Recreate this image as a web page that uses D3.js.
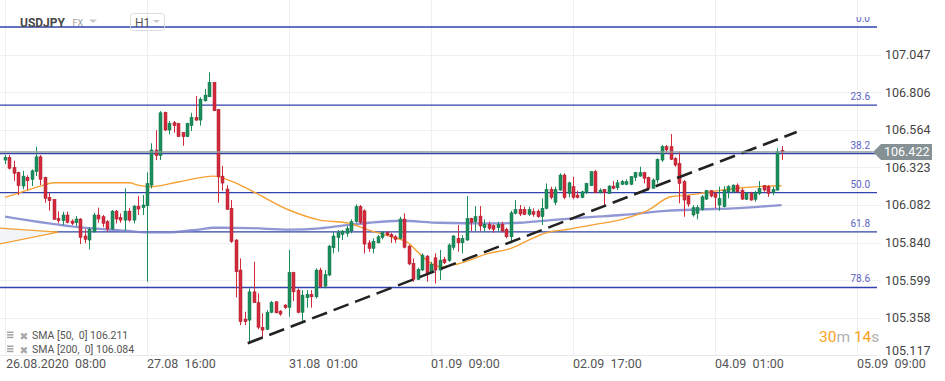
<!DOCTYPE html>
<html><head><meta charset="utf-8">
<script src="https://cdn.jsdelivr.net/npm/d3@7"></script>
<style>body{margin:0;background:#fff;overflow:hidden}svg{display:block;font-family:Roboto,"Open Sans",sans-serif}</style>
</head><body><svg id="c" width="945" height="381"></svg>
<script>
const symbol = "USDJPY", market = "FX", interval = "H1";
const open = [106.370,106.388,106.323,106.291,106.203,106.259,106.246,106.295,106.391,106.259,106.130,106.118,105.995,105.980,106.017,105.978,105.967,105.991,105.882,105.856,105.909,106.017,106.006,105.974,105.927,106.042,106.002,105.984,106.042,105.984,106.074,106.064,106.076,106.209,106.435,106.398,106.677,106.563,106.610,106.606,106.548,106.520,106.591,106.645,106.627,106.751,106.777,106.870,106.696,106.267,106.184,106.060,105.856,105.663,105.348,105.341,105.523,105.453,105.295,105.282,105.391,105.459,105.399,105.438,105.423,105.648,105.534,105.391,105.485,105.507,105.491,105.663,105.560,105.631,105.806,105.871,105.892,105.899,105.914,105.974,106.070,106.044,105.838,105.802,105.838,105.871,105.903,105.892,105.877,105.867,105.991,105.817,105.706,105.603,105.663,105.753,105.652,105.742,105.663,105.732,105.723,105.809,105.867,105.838,105.856,105.995,105.974,106.010,105.935,105.957,105.948,105.935,105.957,105.925,105.877,106.027,106.053,106.053,106.021,106.038,106.042,106.006,106.060,106.182,106.098,106.177,106.274,106.156,106.199,106.145,106.130,106.160,106.205,106.295,106.160,106.182,106.156,106.203,106.192,106.214,106.214,106.214,106.259,106.267,106.289,106.259,106.188,106.242,106.370,106.456,106.456,106.381,106.349,106.231,106.139,106.017,106.027,106.053,106.119,106.173,106.156,106.081,106.070,106.166,106.166,106.209,106.177,106.118,106.156,106.118,106.156,106.205,106.199,106.160,106.177,106.432];
const high = [106.402,106.402,106.366,106.295,106.301,106.272,106.310,106.456,106.402,106.263,106.160,106.120,106.040,106.038,106.038,105.989,106.010,105.997,105.925,105.938,106.031,106.064,106.017,105.984,106.049,106.049,106.027,106.188,106.060,106.081,106.139,106.145,106.291,106.478,106.563,106.685,106.681,106.621,106.621,106.608,106.550,106.610,106.674,106.782,106.773,106.827,106.934,106.872,106.698,106.332,106.209,106.113,105.862,105.738,105.395,105.545,105.716,105.513,105.385,105.406,105.464,105.464,105.406,105.444,105.792,105.652,105.545,105.534,105.534,105.534,105.674,105.678,105.663,105.824,105.909,105.920,105.920,105.946,105.989,106.085,106.081,106.053,105.856,105.867,105.888,105.914,105.914,105.903,105.888,106.006,106.027,105.824,105.738,105.678,105.770,105.759,105.716,105.770,105.792,105.748,105.835,105.888,105.952,105.888,106.139,105.999,106.074,106.074,105.989,105.974,105.957,105.974,105.974,105.935,106.044,106.113,106.081,106.070,106.070,106.060,106.053,106.124,106.220,106.199,106.199,106.285,106.285,106.231,106.263,106.173,106.173,106.224,106.299,106.306,106.188,106.184,106.209,106.235,106.242,106.242,106.246,106.267,106.295,106.327,106.295,106.263,106.253,106.381,106.467,106.467,106.537,106.388,106.424,106.242,106.145,106.081,106.081,106.145,106.177,106.177,106.166,106.199,106.203,106.209,106.214,106.220,106.188,106.166,106.166,106.173,106.235,106.209,106.209,106.199,106.445,106.460];
const low = [106.344,106.310,106.237,106.145,106.182,106.177,106.203,106.267,106.209,106.096,106.044,105.984,105.963,105.952,105.963,105.952,105.946,105.830,105.835,105.796,105.903,105.967,105.938,105.909,105.920,105.963,105.967,105.916,105.974,105.963,106.017,106.017,105.588,106.188,106.370,106.370,106.557,106.535,106.546,106.518,106.462,106.518,106.557,106.621,106.591,106.745,106.775,106.685,106.096,106.173,106.049,105.838,105.487,105.309,105.309,105.192,105.451,105.282,105.224,105.277,105.386,105.385,105.369,105.414,105.363,105.464,105.385,105.331,105.421,105.421,105.481,105.549,105.545,105.624,105.770,105.781,105.856,105.877,105.899,105.967,105.957,105.770,105.781,105.770,105.835,105.860,105.882,105.838,105.838,105.860,105.802,105.695,105.588,105.599,105.657,105.588,105.642,105.577,105.599,105.702,105.716,105.792,105.781,105.770,105.851,105.914,105.914,105.914,105.909,105.920,105.903,105.914,105.903,105.867,105.835,106.021,106.010,106.017,106.010,106.006,105.999,105.952,106.053,106.118,106.081,106.173,106.118,106.130,106.118,106.124,106.124,106.152,106.203,106.156,106.156,106.070,106.152,106.182,106.177,106.209,106.208,106.209,106.235,106.263,106.220,106.184,106.186,106.220,106.359,106.413,106.370,106.327,106.092,106.006,106.070,106.006,105.989,106.044,106.113,106.130,106.060,106.044,106.066,106.124,106.160,106.160,106.113,106.113,106.109,106.102,106.145,106.166,106.134,106.145,106.173,106.370];
const close = [106.388,106.317,106.285,106.205,106.267,106.237,106.301,106.391,106.246,106.124,106.109,105.989,105.980,106.017,105.970,105.963,105.991,105.873,105.860,105.925,106.017,105.991,105.963,105.927,106.042,105.991,105.984,106.042,105.984,106.074,106.055,106.081,106.220,106.435,106.398,106.674,106.563,106.606,106.591,106.520,106.520,106.606,106.645,106.627,106.762,106.788,106.870,106.687,106.263,106.222,106.053,105.845,105.652,105.331,105.331,105.523,105.453,105.295,105.277,105.391,105.455,105.388,105.380,105.421,105.648,105.523,105.391,105.502,105.507,105.491,105.663,105.556,105.635,105.817,105.882,105.903,105.914,105.931,105.974,106.070,105.970,105.830,105.802,105.849,105.877,105.903,105.888,105.877,105.860,105.991,105.809,105.702,105.603,105.667,105.759,105.642,105.700,105.663,105.727,105.710,105.824,105.882,105.838,105.867,105.995,105.970,106.006,105.946,105.957,105.931,105.925,105.957,105.914,105.877,106.031,106.053,106.023,106.021,106.053,106.021,106.006,106.060,106.182,106.130,106.182,106.274,106.130,106.224,106.130,106.130,106.166,106.220,106.295,106.160,106.177,106.160,106.203,106.188,106.224,106.231,106.231,106.263,106.289,106.289,106.253,106.188,106.242,106.375,106.456,106.435,106.375,106.338,106.220,106.113,106.087,106.064,106.066,106.134,106.173,106.139,106.130,106.124,106.177,106.199,106.209,106.166,106.119,106.156,106.113,106.160,106.188,106.177,106.156,106.182,106.424,106.422];

const sma50Idx = [0,3,8,11,19,28,30,33,39,47,51,56,64,71,77,82,87,91,93,96,98,102,109,114,118,122,127,132,139,145,150,154,159,166,175];
const sma50Val = [106.130,106.158,106.203,106.224,106.224,106.224,106.209,106.199,106.229,106.267,106.235,106.166,106.049,105.984,105.967,105.920,105.877,105.835,105.779,105.706,105.684,105.702,105.770,105.802,105.856,105.903,105.925,105.952,105.989,106.049,106.134,106.145,106.166,106.192,106.205];
const sma200Idx = [0,17,27,32,36,44,47,55,64,71,77,82,89,98,109,116,123,131,139,149,157,164,175];
const sma200Val = [106.006,105.937,105.916,105.905,105.905,105.925,105.935,105.933,105.923,105.931,105.952,105.967,105.980,105.967,105.963,105.967,105.984,106.002,106.017,106.044,106.053,106.060,106.081];
const legendNames = ["SMA [50,  0]", "SMA [200,  0]"];
const legendValues = ["106.211", "106.084"];

const yTickValues = [105.117,105.358,105.599,105.840,106.082,106.323,106.564,106.806,107.047];
const yTickLabels = ["105.117","105.358","105.599","105.840","106.082","106.323","106.564","106.806","107.047"];
const xTickIdx = [0,32,64,96,128,160,192];
const xTickLabels = ["26.08.2020  08:00","27.08  16:00","31.08  01:00","01.09  09:00","02.09  17:00","04.09  01:00","05.09  09:00"];

const fibLevels = [0, 23.6, 38.2, 50, 61.8, 78.6];
const fibHigh = 107.2255, fibLow = 105.095;
const trendIdx = [54.7, 178.4], trendVal = [105.193, 106.550];
const wedgeIdx = [-1.2, 12, -1.2], wedgeVal = [105.933, 105.907, 105.831];
const lastPrice = 106.422, lastPriceLabel = "106.422";
const timerParts = [["30","#f7a21b"],["m","#b0b0b0"],[" 14","#f7a21b"],["s","#b0b0b0"]];

const svg = d3.select("#c");
const x = d3.scaleLinear().domain([0,192]).range([5,857]);
const y = d3.scaleLinear().domain([105.117,107.399]).range([355,0]);

const defs = svg.append("defs");
defs.append("clipPath").attr("id","topclip").append("rect").attr("x",0).attr("y",17).attr("width",945).attr("height",400);

// grid
const g = svg.append("g");
g.selectAll(".hg").data(yTickValues).join("line")
  .attr("x1",0).attr("x2",881).attr("y1",d=>Math.round(y(d))+0.5).attr("y2",d=>Math.round(y(d))+0.5)
  .attr("stroke","#efefef").attr("stroke-width",1);
g.selectAll(".vg").data(xTickIdx).join("line")
  .attr("x1",d=>Math.round(x(d))+0.5).attr("x2",d=>Math.round(x(d))+0.5).attr("y1",0).attr("y2",355)
  .attr("stroke","#efefef").attr("stroke-width",1);
g.append("line").attr("x1",0).attr("x2",877).attr("y1",355.5).attr("y2",355.5).attr("stroke","#eaeaea");

// fib
const fib = svg.append("g").attr("clip-path","url(#topclip)");
const fibPrice = l => fibHigh - l/100*(fibHigh - fibLow);
fib.selectAll("line").data(fibLevels).join("line")
  .attr("x1",0).attr("x2",877).attr("y1",d=>y(fibPrice(d))).attr("y2",d=>y(fibPrice(d)))
  .attr("stroke","#3142aa").attr("stroke-width",1.3);
fib.selectAll("text").data(fibLevels).join("text")
  .attr("x",870).attr("y",d=>y(fibPrice(d))-5).attr("text-anchor","end")
  .attr("font-size",10).attr("fill","#5a62c2").text(d=>d.toFixed(1));

// wedge
const wedge = d3.range(3).map(i=>[x(wedgeIdx[i]), y(wedgeVal[i])]);
svg.append("path").attr("d","M"+wedge.map(p=>p.join(",")).join("L")+"Z").attr("fill","#f1f5f8").attr("stroke","none");
svg.append("path").attr("d","M"+wedge.map(p=>p.join(",")).join("L")).attr("fill","none").attr("stroke","#f5a030").attr("stroke-width",1.2);

// SMA lines
const line = d3.line().curve(d3.curveMonotoneX);
svg.append("path").attr("d", line(sma200Idx.map((d,i)=>[x(d), y(sma200Val[i])])))
  .attr("fill","none").attr("stroke","#7d85cc").attr("stroke-width",2.3).attr("opacity",0.85);
svg.append("path").attr("d", line(sma50Idx.map((d,i)=>[x(d), y(sma50Val[i])])))
  .attr("fill","none").attr("stroke","#f7a033").attr("stroke-width",1.4);

// candles
const candles = open.map((o,i)=>({i, o, h:high[i], l:low[i], c:close[i]}));
const cg = svg.append("g").selectAll("g").data(candles).join("g");
const col = d => d.c >= d.o ? "#1a8f5c" : "#d42a3c";
const edge = d => d.c >= d.o ? "#137049" : "#a81f2e";
cg.append("line").attr("x1",d=>Math.round(x(d.i))+0.5).attr("x2",d=>Math.round(x(d.i))+0.5)
  .attr("y1",d=>y(d.h)).attr("y2",d=>y(d.l)).attr("stroke",col).attr("stroke-width",1);
cg.append("rect").attr("x",d=>Math.round(x(d.i))-1).attr("width",3)
  .attr("y",d=>y(Math.max(d.o,d.c))).attr("height",d=>Math.max(1.2, Math.abs(y(d.o)-y(d.c))))
  .attr("fill",col).attr("stroke",edge).attr("stroke-width",0.5);

// trend line
svg.append("line").attr("x1",x(trendIdx[0])).attr("y1",y(trendVal[0])).attr("x2",x(trendIdx[1])).attr("y2",y(trendVal[1]))
  .attr("stroke","#222").attr("stroke-width",2.6).attr("stroke-dasharray","16,7");

// last price line & label
const py = y(lastPrice);
svg.append("line").attr("x1",0).attr("x2",873).attr("y1",py).attr("y2",py).attr("stroke","#8e9a9c").attr("stroke-width",1.4);
svg.append("path").attr("d",`M873,${py}L881,${py-8}L932,${py-8}L932,${py+8}L881,${py+8}Z`).attr("fill","#859194");
svg.append("text").attr("x",884).attr("y",py+4.5).attr("font-size",12.5).attr("fill","#fff").text(lastPriceLabel);

// y labels
svg.selectAll(".yl").data(yTickValues).join("text")
  .attr("x",885).attr("y",d=>Math.min(y(d),350)+4.5).attr("font-size",12.5).attr("fill","#444")
  .text((d,i)=>yTickLabels[i]);

// x labels
svg.selectAll(".xl").data(xTickIdx).join("text")
  .attr("x",(d,i)=> i===0 ? 6 : x(d)).attr("y",368).attr("font-size",12.5).attr("fill","#555")
  .style("white-space","pre").text((d,i)=>xTickLabels[i]);

// legend
const lg = svg.append("g");
legendNames.forEach((n,i)=>{
  const cy = 335.5 + i*14;
  for(let k=0;k<3;k++) lg.append("rect").attr("x",7).attr("y",cy-4+k*2.6).attr("width",6.5).attr("height",1.5).attr("fill","#a5a5a5");
  lg.append("text").attr("x",19.5).attr("y",cy+4).attr("font-size",10.5).attr("fill","#a8a8a8").attr("font-family","DejaVu Sans").text("✖");
  lg.append("text").attr("x",32).attr("y",cy+3.8).attr("font-size",10.5).attr("fill","#555").style("white-space","pre").text(n+" "+legendValues[i]);
});

// timer
const tt = svg.append("text").attr("x",819).attr("y",342).attr("font-size",15.5).style("white-space","pre");
timerParts.forEach(p=>tt.append("tspan").attr("fill",p[1]).text(p[0]));

// header
svg.append("text").attr("x",20).attr("y",27).attr("font-size",12).attr("font-weight","bold").attr("fill","#484848").text(symbol);
svg.append("text").attr("x",72.5).attr("y",26).attr("font-size",9).attr("fill","#9a9a9a").text(market);
svg.append("path").attr("d","M89,19.5L97,19.5L93,23Z").attr("fill","#c8c8c8");
svg.append("rect").attr("x",130.5).attr("y",13.5).attr("width",34).attr("height",17).attr("rx",3).attr("fill","none").attr("stroke","#dcdcdc");
svg.append("text").attr("x",135).attr("y",27).attr("font-size",12).attr("fill","#555").text(interval);
svg.append("path").attr("d","M153,20L160,20L156.5,23Z").attr("fill","#c8c8c8");
</script></body></html>
